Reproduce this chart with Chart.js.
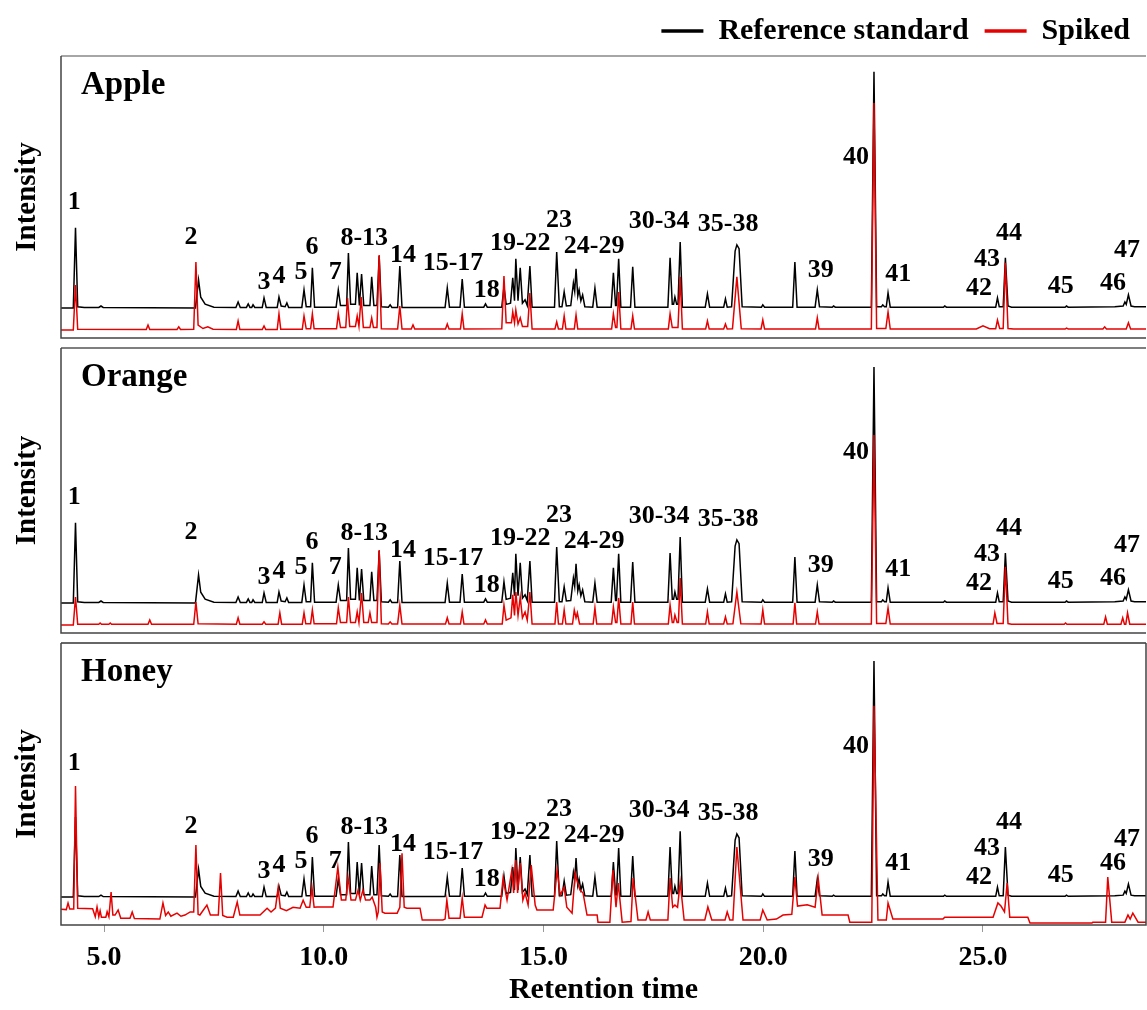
<!DOCTYPE html>
<html>
<head>
<meta charset="utf-8">
<script src="https://cdn.jsdelivr.net/npm/chart.js@4.4.1/dist/chart.umd.min.js"></script>
<style>
html,body{margin:0;padding:0;background:#fff;}
#wrap{position:relative;width:1147px;height:1010px;overflow:hidden;background:#fff;}
canvas{position:absolute;left:0;display:block;}
</style>
</head>
<body>
<div id="wrap">
<canvas id="c1" width="1147" height="340" style="top:0px;width:1147px;height:340px"></canvas>
<canvas id="c2" width="1147" height="295" style="top:340px;width:1147px;height:295px"></canvas>
<canvas id="c3" width="1147" height="375" style="top:635px;width:1147px;height:375px"></canvas>
</div>
<script>
// ---------------- data ----------------
const samples = ['Apple', 'Orange', 'Honey'];
const seriesNames = ['Reference standard', 'Spiked'];
const xTicks = [5, 10, 15, 20, 25];

// peak annotations: label, retention time, label level (intensity units)
const peakLabels = ['1','2','3','4','5','6','7','8-13','14','15-17','18','19-22','23','24-29','30-34','35-38','39','40','41','42','43','44','45','46','47'];
const peakLabelTime = [4.32,6.98,8.64,8.98,9.48,9.73,10.26,10.92,11.80,12.94,13.71,14.47,15.35,16.15,17.63,19.20,21.31,22.11,23.07,24.91,25.09,25.59,26.77,27.96,28.28];
const peakLabelLevel = [54.0,39.2,20.3,22.8,24.5,35.0,24.5,38.8,31.6,28.3,16.9,36.7,46.4,35.4,46.0,44.7,25.3,73.0,23.6,17.7,30.0,40.9,18.6,19.8,33.8];
const honeyLabelLevel = {'1': 65.8, '46': 23.6};

// reference standard trace [retention time, intensity]
const refTrace = [[4.02,0],[4.30,0],[4.35,33.8],[4.40,0.5],[4.55,0.2],[4.88,0.2],[4.93,0.8],[4.98,0.2],[7.08,0],[7.15,11.8],[7.20,4.5],[7.30,1.6],[7.50,0.3],[8.00,0.2],[8.05,2.5],[8.10,0.2],[8.24,0.2],[8.28,1.7],[8.32,0.2],[8.36,0.2],[8.39,1.3],[8.43,0.2],[8.60,0.2],[8.64,4.2],[8.69,0.2],[8.94,0.2],[8.98,4.6],[9.03,0.8],[9.12,0.5],[9.16,2.1],[9.20,0.2],[9.50,0.2],[9.55,7.6],[9.60,0.5],[9.70,0.5],[9.74,16.9],[9.79,0.3],[10.28,0.3],[10.33,7.6],[10.38,1],[10.52,1],[10.56,23.2],[10.61,1.5],[10.72,1.5],[10.76,14.8],[10.81,1],[10.86,14.3],[10.91,1],[11.05,1],[11.09,13.1],[11.14,1],[11.21,1],[11.26,21.9],[11.31,0.5],[11.47,0.3],[11.51,1.3],[11.55,0.2],[11.68,0.2],[11.73,17.7],[11.78,0.2],[12.76,0.2],[12.81,8.4],[12.86,0.3],[13.10,0.3],[13.15,12.2],[13.20,0.3],[13.64,0.3],[13.68,1.7],[13.72,0.3],[14.05,0.3],[14.10,8.9],[14.15,1.5],[14.25,2],[14.30,12.7],[14.34,3],[14.37,20.7],[14.42,3],[14.47,16.9],[14.52,2],[14.58,3.4],[14.63,1],[14.69,17.7],[14.74,0.3],[15.25,0.3],[15.30,23.6],[15.36,0.5],[15.42,0.5],[15.47,6.8],[15.52,0.8],[15.62,1],[15.68,10.5],[15.71,7],[15.74,16.5],[15.78,5],[15.81,7.6],[15.85,3],[15.89,5.5],[15.94,0.5],[16.12,0.3],[16.17,8.4],[16.22,0.3],[16.54,0.3],[16.59,14.8],[16.64,1],[16.66,1],[16.71,20.7],[16.76,0.3],[16.98,0.3],[17.03,17.3],[17.08,0.3],[17.83,0.3],[17.88,21.1],[17.93,1.5],[17.96,1.5],[17.99,4.6],[18.03,1.5],[18.06,1.5],[18.11,27.8],[18.16,0.3],[18.68,0.3],[18.73,5.9],[18.78,0.3],[19.10,0.3],[19.14,3.8],[19.18,0.3],[19.28,0.5],[19.36,24],[19.40,26.6],[19.45,25],[19.52,0.5],[19.96,0.3],[19.99,1.3],[20.03,0.3],[20.67,0.3],[20.72,19.4],[20.77,0.3],[21.18,0.3],[21.23,7.6],[21.28,0.5],[21.57,0.3],[21.60,0.8],[21.64,0.3],[22.46,0.3],[22.52,99.6],[22.58,0.5],[22.69,0.5],[22.72,1.3],[22.76,0.5],[22.80,0.5],[22.84,6.3],[22.89,0.3],[24.10,0.3],[24.13,0.8],[24.17,0.3],[25.29,0.3],[25.33,4.2],[25.37,0.5],[25.46,0.5],[25.51,21.1],[25.57,0.8],[25.65,0.3],[26.87,0.3],[26.90,0.8],[26.94,0.3],[28.00,0.5],[28.19,0.8],[28.23,2.5],[28.26,1.5],[28.31,5.5],[28.37,0.8],[28.45,0.5],[28.71,0.5]];

// spiked traces [retention time, intensity]
const appleSpiked = [[4.02,0],[4.30,0],[4.35,19],[4.40,0.3],[5.96,0.2],[6.00,2.1],[6.04,0.2],[6.66,0.2],[6.70,1.3],[6.74,0.2],[7.04,0.3],[7.09,28.7],[7.14,2],[7.25,0.6],[7.36,1.3],[7.48,0.3],[8.01,0.2],[8.05,3.8],[8.09,0.2],[8.60,0.2],[8.64,1.7],[8.68,0.2],[8.94,0.2],[8.98,6.8],[9.02,0.3],[9.51,0.3],[9.55,5.9],[9.60,0.5],[9.70,0.5],[9.74,6.8],[9.78,0.5],[10.29,0.5],[10.33,6.8],[10.38,1],[10.50,1],[10.54,13.5],[10.59,1.5],[10.72,1.5],[10.76,5.9],[10.80,1.5],[10.85,13.9],[10.90,1],[11.05,1],[11.09,5.1],[11.13,1],[11.21,1],[11.26,31.6],[11.31,0.5],[11.68,0.4],[11.73,10.1],[11.78,0.4],[11.99,0.4],[12.03,2.1],[12.07,0.4],[12.77,0.4],[12.81,2.5],[12.85,0.4],[13.11,0.4],[13.15,6.8],[13.19,0.4],[14.05,0.5],[14.10,22.8],[14.15,3],[14.27,3],[14.30,7.6],[14.34,3],[14.37,8.4],[14.42,2.5],[14.47,5.1],[14.52,1.5],[14.64,1.5],[14.69,15.6],[14.74,0.4],[15.26,0.4],[15.30,3.4],[15.34,0.4],[15.43,0.4],[15.47,5.9],[15.51,0.4],[15.70,0.4],[15.74,6.3],[15.78,0.4],[16.55,0.4],[16.59,6.8],[16.64,1],[16.67,1],[16.71,16],[16.76,0.4],[16.99,0.4],[17.03,5.9],[17.07,0.4],[17.84,0.4],[17.88,6.8],[17.93,1],[18.06,1],[18.11,22.4],[18.16,0.4],[18.69,0.4],[18.73,3.8],[18.77,0.4],[19.10,0.4],[19.14,2.5],[19.18,0.4],[19.30,0.5],[19.40,22.4],[19.50,0.5],[19.95,0.4],[19.99,4.2],[20.03,0.4],[21.19,0.4],[21.23,5.1],[21.27,0.4],[22.46,0.4],[22.52,95.8],[22.58,0.6],[22.79,0.6],[22.84,7.6],[22.89,0.4],[24.85,0.4],[25.00,1.7],[25.15,0.5],[25.29,0.5],[25.33,4.2],[25.38,0.6],[25.46,0.6],[25.51,28.3],[25.57,0.6],[25.70,0.4],[26.87,0.4],[26.90,0.8],[26.94,0.4],[27.73,0.4],[27.77,1.3],[27.81,0.4],[28.26,0.4],[28.31,3],[28.36,0.4],[28.71,0.4]];

const orangeSpiked = [[4.02,0],[4.30,0],[4.35,11.8],[4.40,0.3],[4.88,0.3],[4.91,0.8],[4.94,0.3],[5.11,0.3],[5.14,0.8],[5.17,0.3],[6.00,0.3],[6.04,2.1],[6.08,0.3],[7.04,0.3],[7.09,9.7],[7.14,0.5],[8.01,0.3],[8.05,3],[8.09,0.3],[8.60,0.3],[8.64,1.3],[8.68,0.3],[8.96,0.3],[9.00,5.1],[9.04,0.3],[9.51,0.3],[9.55,5.1],[9.59,0.5],[9.70,0.5],[9.74,6.3],[9.78,0.5],[10.29,0.5],[10.33,7.2],[10.38,1],[10.52,1],[10.56,11.8],[10.61,1],[10.72,1],[10.76,5.5],[10.80,1],[10.86,13.5],[10.91,1],[11.01,1],[11.05,5.1],[11.09,1],[11.21,1],[11.26,31.6],[11.31,0.5],[11.47,0.4],[11.51,1.3],[11.55,0.4],[11.68,0.4],[11.73,8.4],[11.78,0.4],[12.77,0.4],[12.81,3],[12.85,0.4],[13.11,0.4],[13.15,5.5],[13.19,0.4],[13.64,0.4],[13.68,2.1],[13.72,0.4],[14.06,0.4],[14.10,8.4],[14.15,2],[14.26,3],[14.30,12.7],[14.34,4],[14.37,13.9],[14.42,4],[14.47,11.8],[14.52,3],[14.58,5.5],[14.63,2],[14.69,13.9],[14.74,0.4],[15.26,0.4],[15.30,9.7],[15.34,0.4],[15.43,0.4],[15.47,6.3],[15.51,0.4],[15.66,0.4],[15.70,6.3],[15.74,3],[15.77,5.1],[15.82,0.4],[16.13,0.4],[16.17,7.2],[16.21,0.4],[16.55,0.4],[16.59,7.6],[16.64,1],[16.67,1],[16.71,11.4],[16.76,0.4],[16.99,0.4],[17.03,9.7],[17.07,0.4],[17.84,0.4],[17.88,8.4],[17.93,1],[17.96,1],[17.99,4.2],[18.04,1],[18.07,1],[18.11,19.8],[18.16,0.4],[18.69,0.4],[18.73,5.5],[18.77,0.4],[19.10,0.4],[19.14,3.4],[19.18,0.4],[19.31,0.5],[19.40,13.9],[19.49,0.5],[19.95,0.4],[19.99,6.3],[20.03,0.4],[20.68,0.4],[20.72,9.3],[20.76,0.4],[21.19,0.4],[21.23,5.5],[21.27,0.4],[22.46,0.4],[22.52,80.2],[22.58,0.6],[22.79,0.6],[22.84,7.2],[22.89,0.4],[25.23,0.4],[25.27,5.1],[25.32,0.6],[25.46,0.6],[25.51,24.5],[25.57,0.6],[25.65,0.3],[26.85,0.3],[26.88,0.8],[26.91,0.3],[27.75,0.3],[27.79,3.4],[27.83,0.3],[28.14,0.3],[28.18,3],[28.22,0.3],[28.25,0.3],[28.29,5.1],[28.34,0.3],[28.71,0.3]];

const honeySpiked = [[4.02,4.2],[4.14,4.0],[4.18,6.8],[4.22,4.2],[4.31,4.2],[4.35,56.1],[4.40,4.6],[4.74,4.4],[4.80,1.0],[4.84,5.1],[4.88,1.0],[4.91,3.5],[4.94,0.8],[5.04,0.8],[5.07,3.1],[5.11,1.0],[5.16,11.4],[5.20,1.7],[5.25,1.7],[5.32,3.8],[5.38,0.4],[5.59,0.4],[5.64,3.0],[5.69,0.2],[6.27,0],[6.34,6.8],[6.40,1.5],[6.46,3],[6.52,1.2],[6.66,2.5],[6.75,1.2],[6.84,1.7],[6.96,3],[7.04,3],[7.09,31.2],[7.14,2],[7.18,1.7],[7.34,5.9],[7.42,1.7],[7.60,1.7],[7.65,19.4],[7.70,1.5],[7.80,0.8],[7.94,0.8],[8.03,7.2],[8.09,1.7],[8.55,1.7],[8.71,4.6],[8.80,3],[8.90,4.6],[8.96,13.1],[9.01,4.6],[9.15,3.5],[9.30,5],[9.46,4.6],[9.53,8.0],[9.60,5],[9.68,5],[9.73,13.5],[9.78,5],[9.85,5.1],[10.21,5.1],[10.32,21.9],[10.40,8],[10.50,8],[10.55,17.7],[10.62,8],[10.72,8],[10.78,12.2],[10.83,8],[10.89,12.2],[10.95,8],[11.05,8],[11.10,9.3],[11.18,5],[11.21,0.8],[11.24,3],[11.28,23.6],[11.33,3],[11.39,2.5],[11.67,2.5],[11.73,5],[11.78,27.8],[11.83,5],[11.89,4.6],[12.19,4.6],[12.24,-0.4],[12.71,-0.4],[12.76,0],[12.80,8],[12.85,0.4],[13.10,0.4],[13.15,8.9],[13.20,0.8],[13.60,0.8],[13.67,5.9],[13.71,4.6],[14.01,4.6],[14.08,17.3],[14.17,8],[14.28,20.7],[14.32,11],[14.37,24.9],[14.41,11],[14.47,23.6],[14.53,8],[14.58,11],[14.65,5.9],[14.72,22.8],[14.81,5.9],[14.85,3.8],[15.22,3.8],[15.31,20.7],[15.38,10.1],[15.47,13.5],[15.53,5],[15.65,2.5],[15.72,19.4],[15.76,16.5],[15.83,12.2],[15.90,11],[15.99,1.7],[16.22,1.7],[16.24,-1.3],[16.51,-1.3],[16.58,20.7],[16.65,5],[16.70,15.2],[16.79,-1.3],[16.99,-1],[17.04,17.3],[17.15,-0.4],[17.33,-0.4],[17.38,3],[17.43,-0.4],[17.83,-0.4],[17.88,17.3],[17.94,5],[17.99,5.9],[18.05,5],[18.11,15.6],[18.20,-0.4],[18.67,-0.4],[18.74,5.1],[18.83,-0.4],[19.13,-0.4],[19.18,3],[19.24,-0.4],[19.31,-0.4],[19.40,30.4],[19.54,-0.4],[19.93,-0.4],[19.99,3.8],[20.09,-0.4],[20.30,0],[20.45,1.7],[20.65,2],[20.72,17.7],[20.78,5.5],[21.00,6],[21.18,5],[21.25,17.3],[21.34,1.7],[21.93,1.7],[21.97,-1.3],[22.47,-1.3],[22.52,90],[22.61,-0.4],[22.80,-0.4],[22.84,6.8],[22.95,0],[24.09,0],[24.13,0.8],[24.32,0.8],[25.23,0.8],[25.34,6.8],[25.41,5.5],[25.49,3],[25.55,15.2],[25.61,0.8],[26.02,0.8],[26.07,-1.7],[27.48,-1.7],[27.50,-1.3],[27.79,-1.3],[27.84,17.7],[27.93,-1.3],[28.23,-1.3],[28.30,1.7],[28.35,0],[28.41,2.5],[28.53,-1.3],[28.71,-1.3]];

// ---------------- display settings ----------------
const REF_OFFSET = 9.3;       // vertical offset of the reference trace above the spiked trace
const X_MIN = 4.02, X_MAX = 28.71;
const FONT = '"Liberation Serif", "Times New Roman", Times, serif';
const BLACK = '#000000';
const RED = '#e60000';

Chart.defaults.font.family = FONT;
Chart.defaults.color = '#000';
Chart.defaults.animation = false;

const framePlugin = {
  id: 'frame',
  afterDatasetsDraw(chart, args, opts) {
    const {ctx, chartArea: a} = chart;
    ctx.save();
    ctx.lineWidth = 1.5;
    ctx.strokeStyle = opts.topColor || '#444';
    ctx.beginPath(); ctx.moveTo(a.left, a.top); ctx.lineTo(a.right, a.top); ctx.stroke();
    ctx.strokeStyle = '#444';
    ctx.beginPath();
    ctx.moveTo(a.left, a.top); ctx.lineTo(a.left, a.bottom); ctx.lineTo(a.right, a.bottom);
    if (opts.right) ctx.lineTo(a.right, a.top);
    ctx.stroke();
    ctx.restore();
  }
};

const annotPlugin = {
  id: 'annot',
  afterDatasetsDraw(chart, args, opts) {
    const {ctx, chartArea: a, scales: {x, y}} = chart;
    ctx.save();
    ctx.fillStyle = '#000';
    ctx.font = 'bold 33px ' + FONT;
    ctx.textAlign = 'left';
    ctx.textBaseline = 'alphabetic';
    ctx.fillText(opts.title, a.left + 20, a.top + 38);
    ctx.font = 'bold 26px ' + FONT;
    ctx.textAlign = 'center';
    ctx.textBaseline = 'middle';
    peakLabels.forEach((t, i) => {
      const lv = (opts.levels && opts.levels[t] !== undefined) ? opts.levels[t] : peakLabelLevel[i];
      ctx.fillText(t, x.getPixelForValue(peakLabelTime[i]), y.getPixelForValue(lv));
    });
    ctx.restore();
  }
};

const panels = [
  {id: 'c1', name: samples[0], spiked: appleSpiked, yMin: -3.4, yMax: 115.6, legend: true, xAxis: false, pad: {top: 0, bottom: 2}, topColor: '#888', right: false, levels: null},
  {id: 'c2', name: samples[1], spiked: orangeSpiked, yMin: -3.4, yMax: 116.9, legend: false, xAxis: false, pad: {top: 8, bottom: 2}, topColor: '#555', right: false, levels: null},
  {id: 'c3', name: samples[2], spiked: honeySpiked, yMin: -2.5, yMax: 116.5, legend: false, xAxis: true, pad: {top: 8, bottom: 14}, topColor: '#333', right: true, levels: honeyLabelLevel}
];

panels.forEach(p => {
  const refData = refTrace.map(([t, v]) => ({x: t, y: v + REF_OFFSET}));
  const spkData = p.spiked.map(([t, v]) => ({x: t, y: v}));
  new Chart(document.getElementById(p.id), {
    type: 'line',
    data: {
      datasets: [
        {label: seriesNames[0], data: refData, borderColor: BLACK, backgroundColor: BLACK, borderWidth: 1.5, pointRadius: 0, tension: 0, order: 2},
        {label: seriesNames[1], data: spkData, borderColor: RED, backgroundColor: RED, borderWidth: 1.5, pointRadius: 0, tension: 0, order: 1}
      ]
    },
    options: {
      responsive: false,
      animation: false,
      events: [],
      layout: {padding: {left: 0, right: 1, top: p.pad.top, bottom: p.pad.bottom}},
      scales: {
        x: {
          type: 'linear', min: X_MIN, max: X_MAX, display: p.xAxis,
          afterBuildTicks: s => { s.ticks = xTicks.map(v => ({value: v})); },
          ticks: {font: {size: 28, weight: 'bold', lineHeight: 1.5714}, color: '#000', padding: 4, maxRotation: 0, autoSkip: false, callback: v => Number(v).toFixed(1)},
          grid: {display: true, drawOnChartArea: false, drawTicks: true, tickLength: 7, color: '#999', lineWidth: 1},
          border: {display: false},
          title: {display: true, text: 'Retention time', font: {size: 30, weight: 'bold', lineHeight: 0.4}, color: '#000', padding: {top: 0, bottom: 0}}
        },
        y: {
          type: 'linear', min: p.yMin, max: p.yMax, display: true,
          ticks: {display: false},
          grid: {display: false, drawTicks: false},
          border: {display: false},
          title: {display: true, text: 'Intensity', font: {size: 29, weight: 'bold', lineHeight: 1.2}, color: '#000', padding: {top: 10, bottom: 16.2}}
        }
      },
      plugins: {
        legend: {
          display: p.legend, position: 'top', align: 'end',
          labels: {
            usePointStyle: true, pointStyleWidth: 42, padding: 16, color: '#000',
            font: {size: 30, weight: 'bold'},
            generateLabels: chart => chart.data.datasets.map((d, i) => ({
              text: d.label, strokeStyle: d.borderColor, fillStyle: d.borderColor,
              lineWidth: 3.5, pointStyle: 'line', hidden: false, datasetIndex: i, fontColor: '#000'
            }))
          }
        },
        tooltip: {enabled: false},
        frame: {topColor: p.topColor, right: p.right},
        annot: {title: p.name, levels: p.levels}
      }
    },
    plugins: [framePlugin, annotPlugin]
  });
});
</script>
</body>
</html>
